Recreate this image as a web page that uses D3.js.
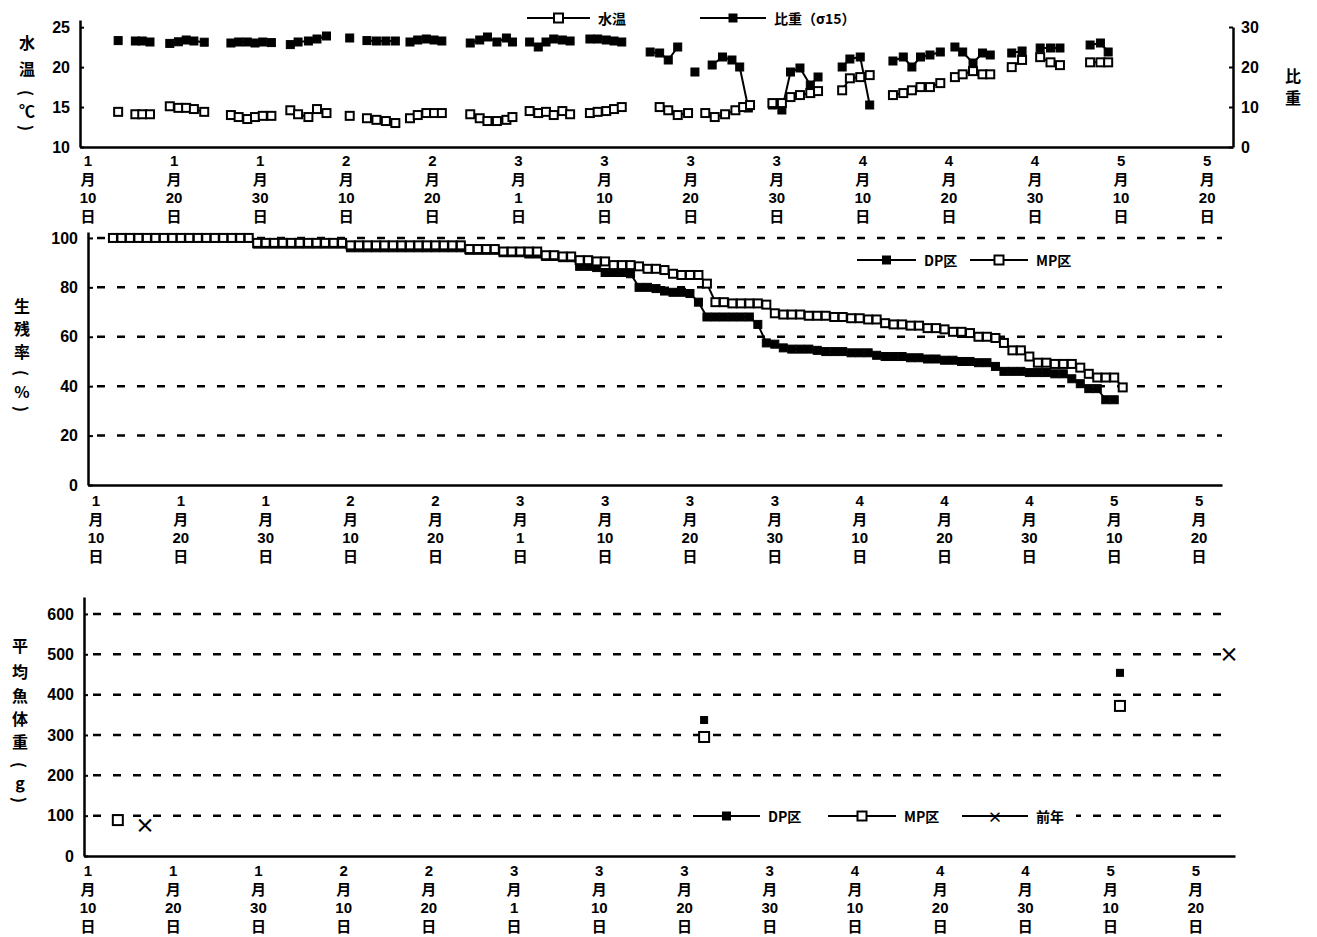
<!DOCTYPE html>
<html>
<head>
<meta charset="utf-8">
<script src="https://cdn.jsdelivr.net/npm/d3@7"></script>
<style>
  body { margin: 0; background: #fff; }
  svg text { font-family: "Noto Sans CJK JP", "Noto Sans", sans-serif; font-weight: 700; fill: #000; }
  .num { font-family: "Liberation Sans Narrow", "Liberation Sans", "Noto Sans CJK JP", sans-serif; font-weight: 700; }
</style>
</head>
<body>
<svg id="chart" width="1317" height="937"></svg>
<script>
// x ticks: one label every 10 days from Jan 10 (x value = days after Jan 10)
const tickMonth = [1, 1, 1, 2, 2, 3, 3, 3, 3, 4, 4, 4, 5, 5]
const tickDay = [10, 20, 30, 10, 20, 1, 10, 20, 30, 10, 20, 30, 10, 20]

// top panel: water temperature (℃) and specific gravity (σ15), null = gap between runs
const tempDay = [3.5, null, 5.5, 6.3, 7.2, null, 9.5, 10.5, 11.4, 12.3, 13.5, null,
  16.6, 17.5, 18.5, 19.4, 20.3, 21.3, null, 23.5, 24.4, 25.6, 26.6, 27.7, null, 30.4, null,
  32.4, 33.5, 34.6, 35.7, null, 37.4, 38.3, 39.3, 40.2, 41.1, null, 44.4, 45.5, 46.4, 47.5, 48.6, 49.3, null,
  51.3, 52.3, 53.2, 54.1, 55.1, 56.0, null, 58.3, 59.2, 60.2, 61.1, 62.0, null, 66.4, 67.4, 68.5, 69.7, null,
  71.7, 72.8, 74.0, 75.2, 76.1, 76.9, null, 79.5, 80.6, 81.6, 82.7, 83.9, 84.8, null, 87.6, 88.5, 89.7, 90.8, null,
  93.5, 94.7, 95.7, 96.7, 97.8, 99.0, null, 100.7, 101.6, 102.8, 103.9, 104.8, null, 107.3, 108.5, null,
  110.6, 111.8, 112.9, null, 116.4, 117.6, 118.5]
const tempC = [14.4, null, 14.1, 14.1, 14.1, null, 15.1, 14.9, 14.9, 14.75, 14.4, null,
  14.0, 13.75, 13.5, 13.75, 13.9, 13.9, null, 14.6, 14.1, 13.75, 14.75, 14.25, null, 13.9, null,
  13.6, 13.4, 13.25, 13.0, null, 13.6, 14.0, 14.25, 14.25, 14.25, null, 14.1, 13.6, 13.25, 13.25, 13.4, 13.75, null,
  14.5, 14.25, 14.4, 14.0, 14.5, 14.1, null, 14.25, 14.4, 14.5, 14.75, 15.0, null, 15.0, 14.6, 14.0, 14.25, null,
  14.25, 13.75, 14.1, 14.6, 15.0, 15.25, null, 15.5, 15.5, 16.25, 16.5, 16.75, 17.0, null, 17.1, 18.6, 18.75, 19.0, null,
  16.5, 16.75, 17.1, 17.5, 17.5, 18.0, null, 18.75, 19.1, 19.5, 19.1, 19.1, null, 20.0, 20.9, null,
  21.25, 20.6, 20.25, null, 20.6, 20.6, 20.6]

const sgDay = [3.5, null, 5.5, 6.3, 7.2, null, 9.5, 10.5, 11.4, 12.3, 13.5, null,
  16.6, 17.5, 18.5, 19.4, 20.3, 21.3, null, 23.5, 24.4, 25.6, 26.6, 27.7, null, 30.4, null,
  32.4, 33.5, 34.6, 35.7, null, 37.4, 38.3, 39.3, 40.2, 41.1, null, 44.4, 45.5, 46.4, 47.5, 48.6, 49.3, null,
  51.3, 52.3, 53.2, 54.1, 55.1, 56.0, null, 58.3, 59.2, 60.2, 61.1, 62.0, null, 65.3, 66.4, 67.4, 68.5, null,
  70.5, null, 72.5, 73.7, 74.8, 75.7, 76.7, null, 79.5, 80.6, 81.6, 82.7, 83.9, 84.8, null, 87.6, 88.5, 89.7, 90.8, null,
  93.5, 94.7, 95.7, 96.7, 97.8, 99.0, null, 100.7, 101.6, 102.8, 103.9, 104.8, null, 107.3, 108.5, null,
  110.6, 111.8, 112.9, null, 116.4, 117.6, 118.5]
const sgVal = [26.6, null, 26.5, 26.5, 26.25, null, 25.9, 26.3, 26.75, 26.5, 26.2, null,
  26.0, 26.25, 26.25, 26.0, 26.25, 26.1, null, 25.6, 26.25, 26.5, 27.0, 27.75, null, 27.25, null,
  26.6, 26.5, 26.5, 26.5, null, 26.25, 26.75, 27.0, 26.75, 26.5, null, 26.0, 26.75, 27.5, 26.25, 27.25, 26.25, null,
  26.25, 25.0, 26.25, 27.0, 26.75, 26.5, null, 27.0, 27.0, 26.75, 26.5, 26.25, null, 23.75, 23.5, 21.75, 25.0, null,
  18.75, null, 20.5, 22.5, 21.75, 20.0, 9.75, null, 10.5, 9.25, 18.75, 19.75, 15.5, 17.5, null, 20.0, 22.0, 22.5, 10.5, null,
  21.5, 22.5, 20.0, 22.5, 23.0, 23.75, null, 25.0, 23.75, 21.0, 23.5, 23.0, null, 23.5, 24.0, null,
  24.75, 24.75, 24.75, null, 25.5, 26.0, 23.75]

// middle panel: survival rate (%), one value per day starting at day 2
const survStart = 2
const dpSurv = [100, 100, 100, 100, 100, 100, 100, 100, 100, 100, 100, 100, 100, 100, 100, 100, 100,
  97.5, 97.5, 97.5, 97.5, 97.5, 97.5, 97.5, 97.5, 97.5, 97.5, 97.5,
  96, 96, 96, 96, 96, 96, 96, 96, 96, 96, 96, 96, 96, 96,
  95, 95, 95, 95, 94, 94, 94, 93.5, 93.5, 92.5, 92.5, 92, 92,
  88.5, 88.5, 88, 86, 86, 86, 85.5, 80, 80, 79.5, 78.5, 78, 78, 77.5, 74,
  68, 68, 68, 68, 68, 68, 65, 57.5, 57, 55.5, 55, 55, 55, 54.5,
  54, 54, 54, 53.5, 53.5, 53.5, 52.5, 52, 52, 52, 51.5, 51.5,
  51, 51, 50.5, 50.5, 50, 50, 49.5, 49.5, 48,
  46, 46, 46, 45.5, 45.5, 45.5, 45, 45, 43, 41, 39, 39, 34.5, 34.5]
const mpSurv = [100, 100, 100, 100, 100, 100, 100, 100, 100, 100, 100, 100, 100, 100, 100, 100, 100,
  98, 98, 98, 98, 98, 98, 98, 98, 98, 98, 98,
  97, 97, 97, 97, 97, 97, 97, 97, 97, 97, 97, 97, 97, 97,
  95.5, 95.5, 95.5, 95.5, 94.5, 94.5, 94.5, 94.5, 94.5, 93, 93, 92.5, 92.5,
  91, 91, 90.5, 90.5, 89, 89, 89, 88.5, 87.5, 87.5, 87, 85.5, 85, 85, 85, 81.5,
  74, 74, 73.5, 73.5, 73.5, 73.5, 73, 69.5, 69, 69, 69, 68.5, 68.5, 68.5,
  68, 68, 67.5, 67.5, 67, 67, 65.5, 65, 65, 64.5, 64.5,
  63.5, 63.5, 63, 62, 62, 61.5, 60, 60, 59.5, 57.5, 54.5, 54.5, 52,
  49.5, 49.5, 49, 49, 49, 47.5, 45, 43.5, 43.5, 43.5, 39.5]

// bottom panel: mean body weight (g)
const dpWDay = [72.3, 121.1]
const dpW = [337, 454]
const mpWDay = [3.5, 72.3, 121.1]
const mpW = [89, 295, 372]
const prevWDay = [6.7, 133.9]
const prevW = [77, 503]

const svg = d3.select('#chart')

const pairs = (xs, ys) => xs.map((x, i) => [x, ys[i]])

const drawSquares = (pts, xs, ys, size, filled) => {
  svg.append('g').selectAll('rect')
    .data(pts.filter(d => d[1] != null))
    .join('rect')
    .attr('x', d => xs(d[0]) - size / 2)
    .attr('y', d => ys(d[1]) - size / 2)
    .attr('width', size)
    .attr('height', size)
    .attr('fill', filled ? '#000' : '#fff')
    .attr('stroke', '#000')
    .attr('stroke-width', filled ? 1 : 2)
}

const drawLine = (pts, xs, ys, w) => {
  const line = d3.line()
    .defined(d => d[1] != null)
    .x(d => xs(d[0]))
    .y(d => ys(d[1]))
  svg.append('path')
    .datum(pts)
    .attr('d', line)
    .attr('fill', 'none')
    .attr('stroke', '#000')
    .attr('stroke-width', w)
}

const drawDateLabels = (xs, y0) => {
  const g = svg.append('g')
  tickMonth.forEach((m, i) => {
    const t = g.append('text').attr('text-anchor', 'middle').attr('font-size', 15)
    ;[m, '月', tickDay[i], '日'].forEach((s, j) => {
      t.append('tspan')
        .attr('class', typeof s === 'number' ? 'num' : null)
        .attr('x', xs(i * 10)).attr('y', y0 + j * 18.7).text(s)
    })
  })
}

const drawGrid = (ys, vals, x1, x2) => {
  svg.append('g').selectAll('line').data(vals).join('line')
    .attr('x1', x1).attr('x2', x2)
    .attr('y1', d => ys(d)).attr('y2', d => ys(d))
    .attr('stroke', '#000').attr('stroke-width', 2.5)
    .attr('stroke-dasharray', '8,12')
}

const styleAxis = (g) => {
  g.select('.domain').attr('stroke-width', 2.5)
  g.selectAll('.tick line').attr('stroke-width', 2)
  g.selectAll('.tick text').attr('class', 'num').attr('font-size', 16)
}

// vertical axis title, one character per row; brackets are turned to lie flat
const vTitle = (chars, x, ys) => {
  svg.append('g').selectAll('text').data(chars).join('text')
    .attr('x', x).attr('y', (d, i) => ys[i])
    .attr('text-anchor', 'middle').attr('dominant-baseline', 'central')
    .attr('font-size', 16)
    .attr('transform', (d, i) => (d === '(' || d === ')') ? `rotate(90,${x},${ys[i]})` : null)
    .text(d => d)
}

const legendItem = (x1, x2, y, marker, label) => {
  svg.append('line').attr('x1', x1).attr('x2', x2).attr('y1', y).attr('y2', y)
    .attr('stroke', '#000').attr('stroke-width', 2)
  const cx = (x1 + x2) / 2
  if (marker === 'open' || marker === 'filled') {
    const s = marker === 'open' ? 9 : 7
    svg.append('rect').attr('x', cx - s / 2).attr('y', y - s / 2).attr('width', s).attr('height', s)
      .attr('fill', marker === 'open' ? '#fff' : '#000').attr('stroke', '#000').attr('stroke-width', 2)
  } else {
    svg.append('text').attr('x', cx).attr('y', y).attr('text-anchor', 'middle')
      .attr('dominant-baseline', 'central').attr('font-size', 15).text('×')
  }
  svg.append('text').attr('x', x2 + 8).attr('y', y).attr('dominant-baseline', 'central')
    .attr('font-size', 14).text(label)
}

// ---------- top panel ----------
const xTop = d3.scaleLinear().domain([-0.93, 133]).range([80, 1233])
const yTemp = d3.scaleLinear().domain([10, 25.9]).range([147, 20])
const ySg = d3.scaleLinear().domain([0, 30]).range([147, 27])

svg.append('g').attr('transform', 'translate(80,0)')
  .call(d3.axisLeft(yTemp).tickValues([10, 15, 20, 25]).tickSizeInner(-4).tickSizeOuter(0).tickPadding(10))
  .call(styleAxis)
svg.append('g').attr('transform', 'translate(1233,0)')
  .call(d3.axisRight(ySg).tickValues([0, 10, 20, 30]).tickSizeInner(-4).tickSizeOuter(0).tickPadding(8))
  .call(styleAxis)
svg.append('g').attr('transform', 'translate(0,147)')
  .call(d3.axisBottom(xTop).tickValues([]).tickSizeOuter(0))
  .call(styleAxis)

const tempPts = pairs(tempDay, tempC)
const sgPts = pairs(sgDay, sgVal)
drawLine(sgPts, xTop, ySg, 2)
drawSquares(sgPts, xTop, ySg, 8, true)
drawLine(tempPts, xTop, yTemp, 2)
drawSquares(tempPts, xTop, yTemp, 8, false)
drawDateLabels(xTop, 166)

vTitle(['水', '温', '(', '℃', ')'], 27, [42, 68, 93, 110, 128])
vTitle(['比', '重'], 1293, [75, 97])
legendItem(527, 590, 18, 'open', '水温')
legendItem(700, 766, 18, 'filled', '比重（σ15）')

// ---------- middle panel ----------
const xMid = d3.scaleLinear().domain([-0.94, 132.7]).range([88, 1222])
const ySurv = d3.scaleLinear().domain([0, 102.4]).range([485, 232])

drawGrid(ySurv, [20, 40, 60, 80, 100], 97, 1222)
svg.append('g').attr('transform', 'translate(88,0)')
  .call(d3.axisLeft(ySurv).tickValues([0, 20, 40, 60, 80, 100]).tickSizeInner(-5).tickSizeOuter(0).tickPadding(10))
  .call(styleAxis)
svg.append('g').attr('transform', 'translate(0,485)')
  .call(d3.axisBottom(xMid).tickValues([]).tickSizeOuter(0))
  .call(styleAxis)

const dpPts = dpSurv.map((v, i) => [survStart + i, v])
const mpPts = mpSurv.map((v, i) => [survStart + i, v])
drawLine(dpPts, xMid, ySurv, 2)
drawSquares(dpPts, xMid, ySurv, 8, true)
drawLine(mpPts, xMid, ySurv, 2)
drawSquares(mpPts, xMid, ySurv, 8, false)
drawDateLabels(xMid, 506)

vTitle(['生', '残', '率', '(', '%', ')'], 22, [305, 328, 351, 373, 391, 409])
svg.append('rect').attr('x', 850).attr('y', 250).attr('width', 240).attr('height', 20).attr('fill', '#fff')
legendItem(857, 916, 260, 'filled', 'DP区')
legendItem(970, 1028, 260, 'open', 'MP区')

// ---------- bottom panel ----------
const xBot = d3.scaleLinear().domain([-0.47, 134.6]).range([84, 1235])
const yW = d3.scaleLinear().domain([0, 642]).range([856, 597])

drawGrid(yW, [100, 200, 300, 400, 500, 600], 93, 1222)
svg.append('g').attr('transform', 'translate(84,0)')
  .call(d3.axisLeft(yW).tickValues([0, 100, 200, 300, 400, 500, 600]).tickSizeInner(-4).tickSizeOuter(0).tickPadding(10))
  .call(styleAxis)
svg.append('g').attr('transform', 'translate(0,856)')
  .call(d3.axisBottom(xBot).tickValues([]).tickSizeOuter(0))
  .call(styleAxis)

drawSquares(pairs(dpWDay, dpW), xBot, yW, 7, true)
drawSquares(pairs(mpWDay, mpW), xBot, yW, 10, false)
svg.append('g').selectAll('text').data(pairs(prevWDay, prevW)).join('text')
  .attr('x', d => xBot(d[0])).attr('y', d => yW(d[1]))
  .attr('text-anchor', 'middle').attr('dominant-baseline', 'central')
  .attr('font-size', 20).attr('font-weight', 400).text('×')
drawDateLabels(xBot, 876)

vTitle(['平', '均', '魚', '体', '重', '(', 'g', ')'], 20, [645, 671, 695, 718, 741, 765, 782, 800])
svg.append('rect').attr('x', 686).attr('y', 806).attr('width', 390).attr('height', 20).attr('fill', '#fff')
legendItem(693, 760, 816, 'filled', 'DP区')
legendItem(828, 896, 816, 'open', 'MP区')
legendItem(962, 1028, 816, 'cross', '前年')
</script>
</body>
</html>
